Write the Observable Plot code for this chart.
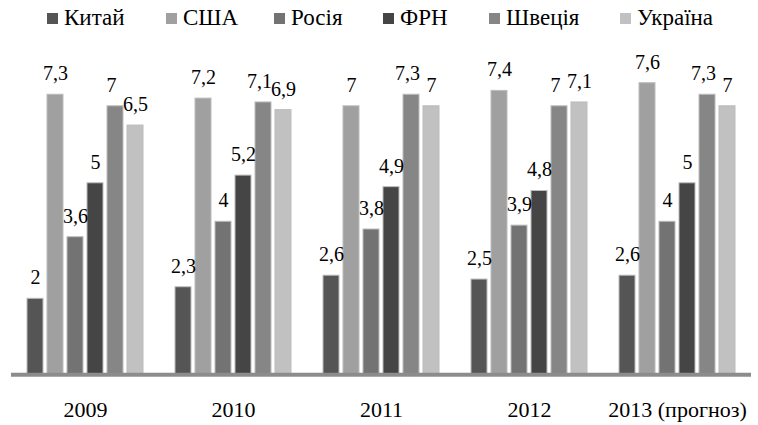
<!DOCTYPE html>
<html>
<head>
<meta charset="utf-8">
<script src="https://cdn.jsdelivr.net/npm/d3@7"></script>
<script src="https://cdn.jsdelivr.net/npm/@observablehq/plot@0.6"></script>
<style>
  html, body { margin: 0; padding: 0; background: #fff; }
  #legend {
    height: 36px; position: relative;
    font-family: "Liberation Serif", "Times New Roman", serif; font-size: 23px; color: #000;
  }
  .item { position: absolute; top: 0; height: 36px; display: flex; align-items: center; white-space: nowrap; }
  .sw { width: 11px; height: 11px; margin-right: 6px; }
</style>
</head>
<body>
<div id="legend"></div>
<div id="chart"></div>
<script>
const years = ["2009", "2010", "2011", "2012", "2013 (прогноз)"];
const countries = ["Китай", "США", "Росія", "ФРН", "Швеція", "Україна"];
const china   = [2, 2.3, 2.6, 2.5, 2.6];
const usa     = [7.3, 7.2, 7, 7.4, 7.6];
const russia  = [3.6, 4, 3.8, 3.9, 4];
const germany = [5, 5.2, 4.9, 4.8, 5];
const sweden  = [7, 7.1, 7.3, 7, 7.3];
const ukraine = [6.5, 6.9, 7, 7.1, 7];
const colors = ["#555555", "#a0a0a0", "#737373", "#454545", "#868686", "#c1c1c1"];

// legend layout (pixel offsets of each legend entry)
const legendLeft = [47, 166, 274, 383, 489, 620];

const series = [china, usa, russia, germany, sweden, ukraine];
const data = [];
years.forEach((year, i) => {
  countries.forEach((country, j) => {
    data.push({year, country, value: series[j][i]});
  });
});

const legend = document.getElementById("legend");
countries.forEach((c, j) => {
  const item = document.createElement("div");
  item.className = "item";
  item.style.left = legendLeft[j] + "px";
  const sw = document.createElement("div");
  sw.className = "sw";
  sw.style.background = colors[j];
  const label = document.createElement("span");
  label.textContent = c;
  item.appendChild(sw);
  item.appendChild(label);
  legend.appendChild(item);
});

const fmt = v => String(v).replace(".", ",");
const serif = "Liberation Serif";

const chart = Plot.plot({
  width: 758,
  height: 389,
  marginLeft: 10,
  marginRight: 6,
  marginTop: 31.3,
  marginBottom: 49.7,
  style: {fontFamily: serif, fontSize: "22px", color: "#000", background: "#fff"},
  fx: {domain: years, padding: 0, label: null, axis: "bottom", tickSize: 0, tickPadding: 26},
  x: {domain: countries, paddingInner: 0.22, paddingOuter: 0.645, axis: null},
  y: {domain: [0, 8], axis: null},
  color: {domain: countries, range: colors},
  marks: [
    Plot.barY(data, {fx: "year", x: "country", y: "value", fill: "country", stroke: "#bcbcbc", strokeWidth: 1}),
    Plot.text(data.filter(d => d.country !== "Швеція"), {fx: "year", x: "country", y: "value", text: d => fmt(d.value), dy: -21, fontSize: 20, fontFamily: serif, fill: "#000"}),
    Plot.text(data.filter(d => d.country === "Швеція"), {fx: "year", x: "country", y: "value", text: d => fmt(d.value), dy: -21, dx: -4, fontSize: 20, fontFamily: serif, fill: "#000"}),
    Plot.ruleY([0], {stroke: "#8c8c8c", strokeWidth: 4, dy: -1})
  ]
});
document.getElementById("chart").appendChild(chart);
</script>
</body>
</html>
